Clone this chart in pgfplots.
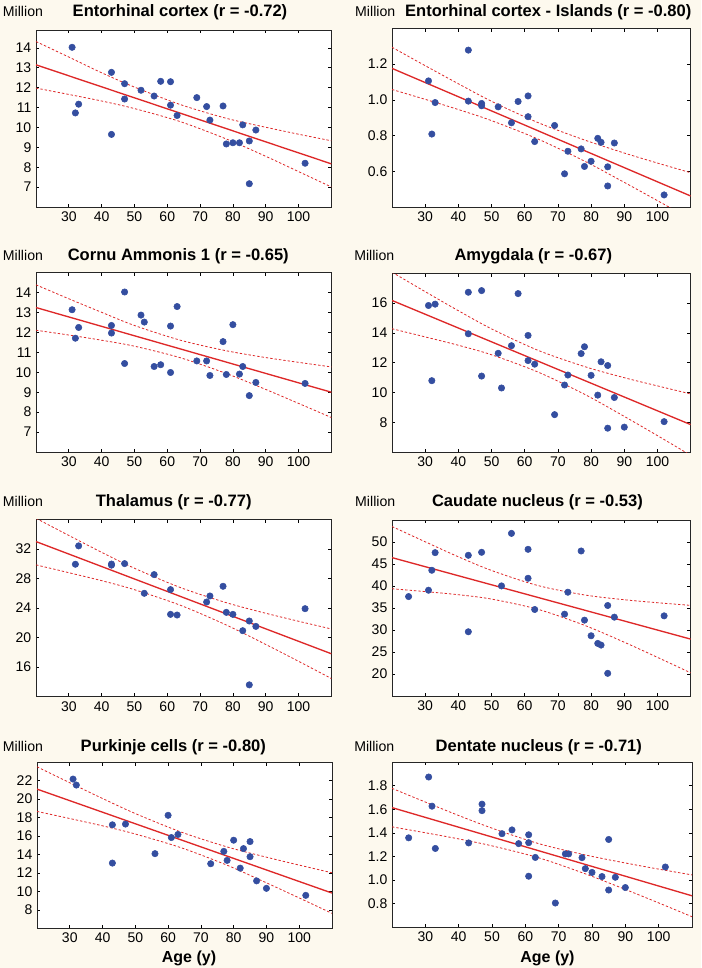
\documentclass[border=0pt]{standalone}
\usepackage{pgfplots}
\pgfplotsset{compat=1.18}
\usepackage{fontspec}
\setmainfont{Liberation Sans}

\definecolor{bgcream}{RGB}{253,249,238}
\definecolor{dotblue}{RGB}{52,78,160}
\definecolor{fitred}{RGB}{222,40,40}

\pgfplotsset{
  panel/.style={
    scale only axis,
    anchor=north west,
    xmin=20, xmax=110,
    xtick={30,40,...,100},
    tick align=inside,
    major tick length=2.5pt,
    axis line style={black!85, line width=0.6pt},
    tick style={black, line width=0.5pt},
    tick label style={font=\fontsize{10.5}{12}\selectfont},
    /pgf/number format/assume math mode=true,
    axis background/.style={fill=white},
  },
  dec1/.style={yticklabel style={/pgf/number format/.cd, fixed, fixed zerofill, precision=1}},
  pts/.style={only marks, mark=*, mark size=2.4pt, mark options={draw=dotblue, fill=dotblue}},
  fit/.style={fitred, line width=1pt},
  ci/.style={fitred, line width=0.6pt, dash pattern=on 1.8pt off 1.5pt, smooth},
}

\newcommand{\ttl}[3]{\node[anchor=base, font=\bfseries\fontsize{12.4}{14}\selectfont] at (#1pt,#2pt) {#3};}
\newcommand{\mil}[2]{\node[anchor=base west, inner sep=0pt, font=\fontsize{10.6}{12}\selectfont] at (#1pt,#2pt) {Million};}

\begin{document}
\begin{tikzpicture}
\path[fill=bgcream, use as bounding box] (0pt,0pt) rectangle (525.75pt,-726pt);

% ---------- Entorhinal cortex
\begin{axis}[panel, at={(27pt,-22.5pt)}, width=221.5pt, height=132.75pt,
  ymin=6, ymax=14.9, ytick={7,8,...,14}]
\addplot[pts] coordinates {
 (31,14.03)(32,10.73)(33,11.17)(43,12.77)(43,9.65)(47,12.2)(47,11.43)(52,11.87)
 (56,11.58)(58,12.32)(61,12.3)(61,11.12)(63,10.6)(69,11.5)(72,11.05)(73,10.37)
 (77,11.08)(78,9.17)(80,9.23)(82,9.23)(83,10.13)(85,9.32)(85,7.17)(87,9.87)(102,8.2)};
\addplot[fit] coordinates {(20,13.15)(110,8.17)};
\addplot[ci] coordinates {(20,14.32)(30,13.54)(40,12.75)(50,12.03)(64,11.15)(78,10.46)(90,10.01)(100,9.66)(110,9.33)};
\addplot[ci] coordinates {(20,11.98)(30,11.66)(40,11.33)(50,10.95)(64,10.29)(78,9.42)(90,8.55)(100,7.78)(110,7.01)};
\end{axis}

% ---------- Entorhinal cortex - Islands
\begin{axis}[panel, dec1, at={(294pt,-21.2pt)}, width=224pt, height=134.25pt,
  ymin=0.4, ymax=1.4, ytick={0.6,0.8,1.0,1.2}]
\addplot[pts] coordinates {
 (31,1.106)(32,0.809)(33,0.985)(43,1.278)(43,0.993)(47,0.98)(47,0.967)(52,0.961)
 (56,0.872)(58,0.991)(61,1.022)(61,0.906)(63,0.767)(69,0.857)(72,0.587)(73,0.713)
 (77,0.726)(78,0.628)(80,0.657)(82,0.785)(83,0.763)(85,0.626)(85,0.519)(87,0.759)(102,0.469)};
\addplot[fit] coordinates {(20,1.176)(110,0.463)};
\addplot[ci] coordinates {(20,1.294)(30,1.191)(40,1.090)(50,0.992)(64,0.873)(78,0.776)(90,0.703)(100,0.647)(110,0.593)};
\addplot[ci] coordinates {(20,1.058)(30,1.003)(40,0.946)(50,0.884)(64,0.781)(78,0.658)(90,0.539)(100,0.437)(110,0.333)};
\end{axis}

% ---------- Cornu Ammonis 1
\begin{axis}[panel, at={(27pt,-204.5pt)}, width=221.5pt, height=134.5pt,
  ymin=6, ymax=15, ytick={7,8,...,14}]
\addplot[pts] coordinates {
 (31,13.14)(32,11.71)(33,12.25)(43,12.35)(43,11.97)(47,14.03)(47,10.44)(52,12.87)
 (53,12.52)(56,10.29)(58,10.38)(61,12.32)(61,9.99)(63,13.3)(69,10.57)(72,10.57)
 (73,9.84)(77,11.54)(78,9.89)(80,12.39)(82,9.91)(83,10.29)(85,8.83)(87,9.49)(102,9.44)};
\addplot[fit] coordinates {(20,13.25)(110,9.0)};
\addplot[ci] coordinates {(20,14.39)(30,13.69)(40,13.01)(50,12.35)(64,11.61)(78,11.08)(90,10.74)(100,10.50)(110,10.27)};
\addplot[ci] coordinates {(20,12.11)(30,11.87)(40,11.61)(50,11.31)(64,10.73)(78,9.94)(90,9.14)(100,8.44)(110,7.73)};
\end{axis}

% ---------- Amygdala
\begin{axis}[panel, at={(294pt,-205pt)}, width=224pt, height=134pt,
  ymin=6, ymax=18, ytick={8,10,...,16}]
\addplot[pts] coordinates {
 (31,15.84)(32,10.79)(33,15.93)(43,16.73)(43,13.94)(47,16.84)(47,11.1)(52,12.63)
 (53,10.3)(56,13.14)(58,16.64)(61,13.83)(61,12.14)(63,11.9)(69,8.51)(72,10.5)
 (73,11.17)(77,12.61)(78,13.07)(80,11.15)(82,9.82)(83,12.06)(85,11.81)(85,7.6)
 (87,9.66)(90,7.67)(102,8.04)};
\addplot[fit] coordinates {(20,16.18)(110,7.84)};
\addplot[ci] coordinates {(20,18.08)(30,16.77)(40,15.49)(50,14.27)(64,12.83)(78,11.74)(90,10.99)(100,10.44)(110,9.90)};
\addplot[ci] coordinates {(20,14.28)(30,13.73)(40,13.17)(50,12.53)(64,11.37)(78,9.88)(90,8.39)(100,7.10)(110,5.78)};
\end{axis}

% ---------- Thalamus
\begin{axis}[panel, at={(27pt,-389.5pt)}, width=221.5pt, height=133pt,
  ymin=12, ymax=36, ytick={16,20,...,32}]
\addplot[pts] coordinates {
 (32,29.92)(33,32.41)(43,29.8)(43,29.95)(47,30.01)(53,25.99)(56,28.52)(61,26.49)
 (61,23.14)(63,23.05)(72,24.81)(73,25.63)(77,26.94)(78,23.41)(80,23.14)(83,20.93)
 (85,22.24)(87,21.51)(85,13.6)(102,23.91)};
\addplot[fit] coordinates {(20,32.99)(110,17.81)};
\addplot[ci] coordinates {(20,36.14)(30,33.82)(40,31.54)(50,29.38)(64,26.77)(78,24.72)(90,23.29)(100,22.21)(110,21.16)};
\addplot[ci] coordinates {(20,29.84)(30,28.78)(40,27.70)(50,26.48)(64,24.37)(78,21.70)(90,19.07)(100,16.79)(110,14.46)};
\end{axis}

% ---------- Caudate nucleus
\begin{axis}[panel, at={(294pt,-390pt)}, width=224pt, height=132pt,
  ymin=15, ymax=55, ytick={20,25,...,50}]
\addplot[pts] coordinates {
 (25,37.6)(31,39.04)(32,43.58)(33,47.58)(43,46.98)(43,29.6)(47,47.66)(53,40.02)
 (56,51.96)(61,48.34)(61,41.76)(63,34.66)(72,33.6)(73,38.59)(77,47.96)(78,32.24)
 (80,28.69)(82,26.95)(83,26.57)(85,35.57)(85,20.15)(87,32.92)(102,33.22)};
\addplot[fit] coordinates {(20,46.45)(110,27.93)};
\addplot[ci] coordinates {(20,53.52)(30,50.05)(40,46.64)(50,43.53)(64,40.10)(78,37.97)(90,36.88)(100,36.20)(110,35.60)};
\addplot[ci] coordinates {(20,39.38)(30,38.73)(40,38.02)(50,37.03)(64,34.70)(78,31.07)(90,27.22)(100,23.78)(110,20.26)};
\end{axis}

% ---------- Purkinje cells
\begin{axis}[panel, at={(27.75pt,-571.7pt)}, width=221.25pt, height=124.5pt,
  ymin=6, ymax=24, ytick={8,10,...,22}]
\addplot[pts] coordinates {
 (31,22.18)(32,21.53)(43,17.22)(43,13.07)(47,17.3)(56,14.09)(60,18.25)(61,15.84)
 (63,16.17)(73,13.0)(77,14.34)(78,13.36)(80,15.55)(82,12.52)(83,14.64)(85,15.4)
 (85,13.76)(87,11.14)(90,10.33)(102,9.57)};
\addplot[fit] coordinates {(20,21.09)(110,9.82)};
\addplot[ci] coordinates {(20,23.51)(30,21.78)(40,20.07)(50,18.44)(64,16.43)(78,14.82)(90,13.71)(100,12.85)(110,12.02)};
\addplot[ci] coordinates {(20,18.67)(30,17.90)(40,17.11)(50,16.22)(64,14.73)(78,12.84)(90,10.93)(100,9.29)(110,7.62)};
\end{axis}

% ---------- Dentate nucleus
\begin{axis}[panel, dec1, at={(294pt,-571.5pt)}, width=225pt, height=124pt,
  ymin=0.6, ymax=2.0, ytick={0.8,1.0,...,1.8}]
\addplot[pts] coordinates {
 (25,1.358)(31,1.873)(32,1.626)(33,1.268)(43,1.315)(47,1.643)(47,1.588)(53,1.393)
 (56,1.425)(58,1.309)(61,1.384)(61,1.317)(61,1.033)(63,1.192)(69,0.806)(72,1.222)
 (73,1.222)(77,1.19)(78,1.097)(80,1.065)(83,1.03)(85,1.344)(85,0.916)(87,1.024)
 (90,0.937)(102,1.111)};
\addplot[fit] coordinates {(20,1.614)(110,0.867)};
\addplot[ci] coordinates {(20,1.777)(30,1.661)(40,1.547)(50,1.440)(64,1.309)(78,1.213)(90,1.145)(100,1.093)(110,1.044)};
\addplot[ci] coordinates {(20,1.451)(30,1.401)(40,1.349)(50,1.290)(64,1.189)(78,1.053)(90,0.921)(100,0.807)(110,0.690)};
\end{axis}

% ---------- titles and labels
\ttl{135}{-12.5}{Entorhinal cortex (r = -0.72)}
\ttl{411.2}{-12.5}{Entorhinal cortex - Islands (r = -0.80)}
\ttl{133.7}{-195.5}{Cornu Ammonis 1 (r = -0.65)}
\ttl{400}{-195.5}{Amygdala (r = -0.67)}
\ttl{130.3}{-380}{Thalamus (r = -0.77)}
\ttl{403.1}{-380}{Caudate nucleus (r = -0.53)}
\ttl{130}{-563.8}{Purkinje cells (r = -0.80)}
\ttl{404.1}{-563.8}{Dentate nucleus (r = -0.71)}
\mil{2}{-12}
\mil{266.2}{-12.5}
\mil{2}{-195.5}
\mil{265.5}{-195.5}
\mil{2}{-380}
\mil{266.2}{-380}
\mil{2}{-563.8}
\mil{265.5}{-563.8}
\node[anchor=base, font=\bfseries\fontsize{12}{14}\selectfont] at (141.75pt,-722pt) {Age (y)};
\node[anchor=base, font=\bfseries\fontsize{12}{14}\selectfont] at (410.6pt,-722pt) {Age (y)};
\end{tikzpicture}
\end{document}
